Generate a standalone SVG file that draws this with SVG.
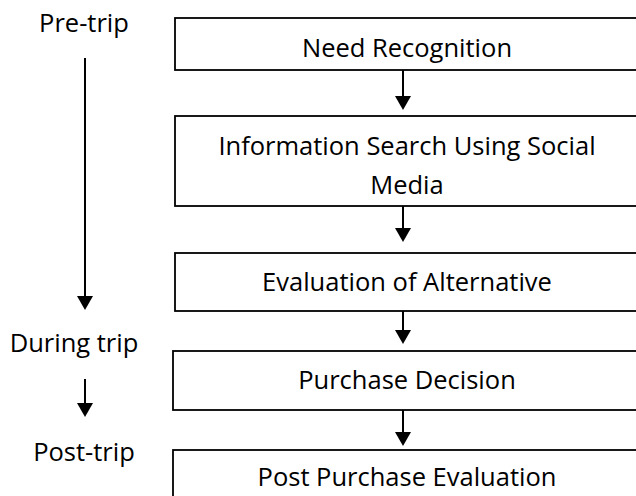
<svg xmlns="http://www.w3.org/2000/svg" width="636" height="496" viewBox="0 0 636 496">
  <style>
    .box { fill: #ffffff; stroke: #000000; stroke-width: 1.8; }
    .lbl { font-family: "Open Sans", "Noto Sans", sans-serif; font-size: 25.5px; fill: #000000; text-anchor: middle; }
    .line { stroke: #000000; stroke-width: 2; fill: none; }
    .head { fill: #000000; }
  </style>
  <defs>
    <!-- downward arrowhead, tip at origin -->
    <path id="tip" class="head" d="M -8 -14 L 8 -14 L 0 0 Z"/>
  </defs>

  <!-- phase labels -->
  <g id="phases">
    <text class="lbl" x="84" y="32">Pre-trip</text>
    <text class="lbl" x="74" y="352">During trip</text>
    <text class="lbl" x="84" y="461">Post-trip</text>
  </g>

  <!-- process steps -->
  <g id="need-recognition">
    <rect class="box" x="175" y="18" width="465" height="52"/>
    <text class="lbl" x="407" y="57">Need Recognition</text>
  </g>
  <g id="information-search">
    <rect class="box" x="175" y="116" width="465" height="90"/>
    <text class="lbl" x="407" y="155">Information Search Using Social</text>
    <text class="lbl" x="407" y="194">Media</text>
  </g>
  <g id="evaluation">
    <rect class="box" x="175" y="253" width="465" height="58"/>
    <text class="lbl" x="407" y="291">Evaluation of Alternative</text>
  </g>
  <g id="purchase-decision">
    <rect class="box" x="173" y="351" width="467" height="59"/>
    <text class="lbl" x="407" y="389">Purchase Decision</text>
  </g>
  <g id="post-purchase">
    <rect class="box" x="173" y="450" width="467" height="60"/>
    <text class="lbl" x="407" y="486">Post Purchase Evaluation</text>
  </g>

  <!-- connectors -->
  <g id="connectors">
    <line class="line" x1="403" y1="70" x2="403" y2="98"/>
    <use href="#tip" x="403" y="110"/>
    <line class="line" x1="403" y1="206" x2="403" y2="230"/>
    <use href="#tip" x="403" y="242"/>
    <line class="line" x1="403" y1="311" x2="403" y2="332"/>
    <use href="#tip" x="403" y="344"/>
    <line class="line" x1="403" y1="410" x2="403" y2="434"/>
    <use href="#tip" x="403" y="446"/>

    <line class="line" x1="85" y1="58" x2="85" y2="298"/>
    <use href="#tip" x="85" y="310"/>
    <line class="line" x1="85" y1="379" x2="85" y2="405"/>
    <use href="#tip" x="85" y="417"/>
  </g>
</svg>
